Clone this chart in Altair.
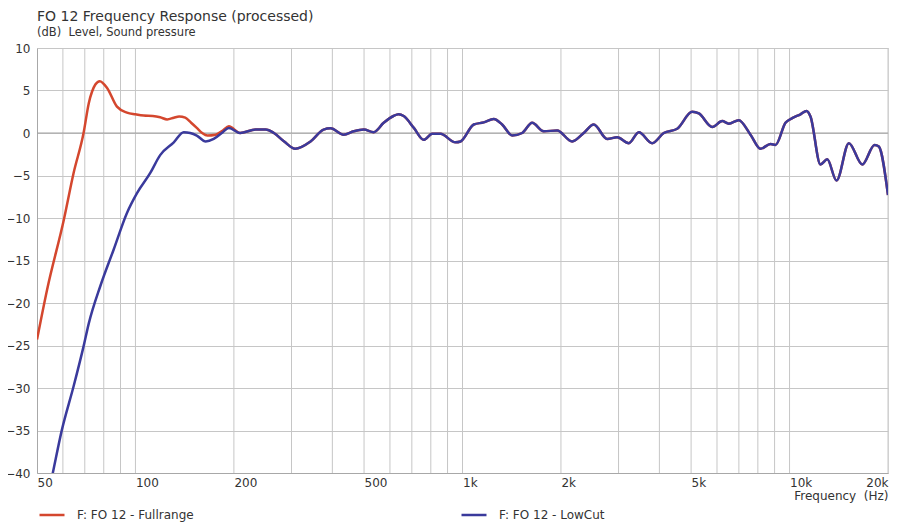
import altair as alt
import pandas as pd

# ---- data ----
full_freq = [50, 53.7, 60.4, 64.7, 69.4, 72, 75.4, 77.8, 81.9, 87.8, 94.2, 100, 106, 113, 119, 125,
             131, 136, 142, 148, 154, 160, 166, 176, 185, 193]
full_db = [-24.3, -18.4, -10.2, -4.7, 0.0, 3.5, 5.7, 6.1, 5.3, 3.1, 2.4, 2.2, 2.05, 2.0, 1.85, 1.6,
           1.8, 1.95, 1.8, 1.2, 0.6, 0.0, -0.3, -0.2, 0.3, 0.8]

low_freq = [50, 55.6, 59.6, 64.7, 69.4, 72, 78.1, 85.8, 94.2, 101, 111, 119, 131, 140.5, 147,
            154, 164, 173.5, 185, 193]
low_db = [-48.5, -40.4, -34.9, -29.8, -25.1, -22.4, -18.0, -13.7, -9.4, -7.1, -4.7, -2.6, -1.1, 0.1, 0.0,
          -0.3, -1.0, -0.7, 0.1, 0.6]

shared_freq = [209, 233, 250, 265, 285, 308, 343, 376, 395, 433, 465, 499, 535, 574, 615, 638, 661,
               710, 761, 808, 856, 952, 986, 1083, 1161, 1246, 1322, 1419, 1522, 1633, 1772, 1947,
               2164, 2348, 2520, 2769, 2972, 3225, 3460, 3802, 4125, 4534, 5039, 5281, 5800, 6225,
               6520, 6993, 7596, 8150, 8745, 9058, 9718, 10190, 10802, 11270, 11588, 12434, 13040,
               13920, 15185, 16687, 18194, 18750, 20000]
shared_db = [0.0, 0.4, 0.4, 0.0, -1.0, -1.85, -1.0, 0.4, 0.55, -0.2, 0.2, 0.4, 0.1, 1.2, 2.0, 2.2, 2.0,
             0.6, -0.8, -0.1, -0.1, -1.1, -1.0, 1.0, 1.25, 1.65, 1.0, -0.3, 0.0, 1.2, 0.2, 0.3,
             -1.0, 0.0, 1.0, -0.7, -0.5, -1.2, 0.1, -1.2, 0.0, 0.5, 2.5, 2.3, 0.7, 1.4,
             1.1, 1.5, -0.2, -1.85, -1.3, -1.4, 1.2, 1.75, 2.2, 2.6, 1.95, -3.7, -3.1,
             -5.6, -1.2, -3.7, -1.4, -1.6, -7.3]

series_names = ["F: FO 12 - Fullrange", "F: FO 12 - LowCut"]
series_colors = ["#d4472e", "#3a3a9c"]

tick_values = [50, 100, 200, 500, 1000, 2000, 5000, 10000, 20000]
tick_labels = ["50", "100", "200", "500", "1k", "2k", "5k", "10k", "20k"]
grid_freqs = [60, 70, 80, 90, 100, 200, 300, 400, 500, 600, 700, 800, 900, 1000, 2000,
              3000, 4000, 5000, 6000, 7000, 8000, 9000, 10000, 20000]
y_ticks = [-40, -35, -30, -25, -20, -15, -10, -5, 0, 5, 10]

# ---- tables ----
df_full = pd.DataFrame({"f": full_freq + shared_freq, "db": full_db + shared_db,
                        "s": series_names[0]})
df_low = pd.DataFrame({"f": low_freq + shared_freq, "db": low_db + shared_db,
                       "s": series_names[1]})
df_grid = pd.DataFrame({"f": grid_freqs})
df_zero = pd.DataFrame({"db": [0]})

label_expr = " : ".join(
    f"datum.value == {v} ? '{l}'" for v, l in zip(tick_values, tick_labels)
) + " : ''"

FONT = "DejaVu Sans"
TXT = "#333333"

xscale = alt.Scale(type="log", domain=[50, 20000], nice=False)
yscale = alt.Scale(domain=[-40, 10], nice=False, zero=False)

color = alt.Color("s:N", scale=alt.Scale(domain=series_names, range=series_colors),
                  legend=alt.Legend(title=None, orient="none", legendX=1, legendY=453,
                                    direction="horizontal", symbolType="stroke",
                                    symbolSize=625, symbolStrokeWidth=2.5,
                                    labelFontSize=12, labelFont=FONT, labelColor=TXT,
                                    labelOffset=11, columnPadding=262, padding=0,
                                    labelLimit=300))

xaxis = alt.Axis(values=tick_values, labelExpr=label_expr,
                 labelAlign=alt.condition(f"datum.value >= {tick_values[-1]}",
                                          alt.value("right"), alt.value("left")),
                 labelFlush=False,
                 labelPadding=4, labelFontSize=12, labelFont=FONT, labelColor=TXT,
                 labelOverlap=False, ticks=False, grid=False, domainColor="#a8a8a8",
                 title="Frequency\u00a0 (Hz)", titleAnchor="end", titleFontWeight="normal",
                 titleFontSize=12, titleFont=FONT, titleColor=TXT, titlePadding=2)
yaxis = alt.Axis(values=y_ticks, labelPadding=7, labelFontSize=12, labelFont=FONT,
                 labelColor=TXT, ticks=False, grid=True, gridColor="#c6c6c6",
                 domainColor="#a8a8a8", title=None)

grid = alt.Chart(df_grid).mark_rule(color="#c6c6c6", strokeWidth=1).encode(
    x=alt.X("f:Q", scale=xscale, axis=xaxis)
)
zero = alt.Chart(df_zero).mark_rule(color="#a0a0a0", strokeWidth=1).encode(
    y=alt.Y("db:Q", scale=yscale, axis=yaxis)
)

line_full = alt.Chart(df_full).mark_line(strokeWidth=2.5, interpolate="monotone", clip=True).encode(
    x=alt.X("f:Q", scale=xscale, axis=xaxis),
    y=alt.Y("db:Q", scale=yscale, axis=yaxis),
    color=color,
)
line_low = alt.Chart(df_low).mark_line(strokeWidth=2.5, interpolate="monotone", clip=True).encode(
    x=alt.X("f:Q", scale=xscale, axis=xaxis),
    y=alt.Y("db:Q", scale=yscale, axis=yaxis),
    color=color,
)

chart = alt.layer(grid, zero, line_full, line_low).properties(
    width=851,
    height=425,
    autosize=alt.AutoSizeParams(type="none"),
    padding={"left": 29, "top": 40, "right": 1, "bottom": 49},
    title=alt.TitleParams(text="FO 12 Frequency Response (processed)",
                          subtitle="(dB)\u00a0 Level, Sound pressure",
                          anchor="start", frame="group", font=FONT, fontSize=14,
                          fontWeight="normal", color=TXT, subtitleFont=FONT,
                          subtitleFontSize=11.5, subtitleColor=TXT, subtitlePadding=3,
                          offset=4),
).configure_view(stroke="#c6c6c6").configure(background="white")

chart.save("out.html", embed_options={"renderer": "svg", "actions": False})
